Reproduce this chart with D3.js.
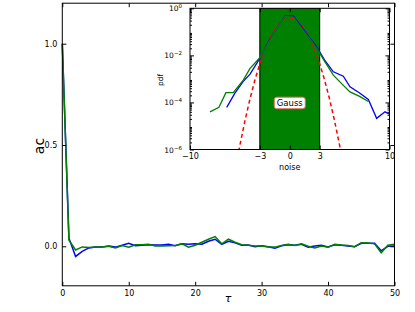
<!DOCTYPE html>
<html><head><meta charset="utf-8">
<script src="https://cdn.jsdelivr.net/npm/d3@7"></script>
<style>body{margin:0;background:#fff} text{font-family:"DejaVu Sans",sans-serif;fill:#000}</style>
</head><body><svg id="c" width="415" height="312"></svg>
<script>
// ---------- data ----------
const tau = [0,1,2,3,4,5,6,7,8,9,10,11,12,13,14,15,16,17,18,19,20,21,22,23,24,25,26,27,28,29,30,31,32,33,34,35,36,37,38,39,40,41,42,43,44,45,46,47,48,49,50];
const acBlue = [1.0,0.04,-0.05,-0.025,-0.008,-0.004,-0.003,0.002,-0.004,0.005,0.015,0.003,0.005,0.008,0.006,0.007,0.010,0.003,0.012,0.010,0.012,0.010,0.025,0.035,0.010,0.025,0.017,0.005,0.006,-0.002,0.003,-0.002,-0.010,0.003,0.008,0.005,0.010,-0.005,0.002,0.005,-0.003,0.008,0.005,0.002,-0.002,0.015,0.015,0.015,-0.022,0.000,0.002];
const acGreen = [1.0,0.03,-0.018,-0.003,-0.006,-0.004,-0.003,0.000,-0.008,0.004,-0.004,0.008,0.008,0.010,0.002,0.002,0.003,0.004,0.012,-0.004,0.005,0.020,0.035,0.048,0.012,0.035,0.020,0.008,0.005,0.002,0.002,-0.003,-0.004,0.004,0.010,0.004,0.012,0.000,-0.008,0.001,-0.005,0.010,0.006,0.004,-0.002,0.018,0.016,0.012,-0.032,0.005,0.010];
const acXTicks = [0,10,20,30,40,50];
const acYTicks = [0.0,0.5,1.0];
const acYLabels = ["0.0","0.5","1.0"];

const noiseBlueX = [-6.32,-5.5,-4.66,-3.98,-3.0,-2.2,-1.3,-0.47,0.36,1.2,2.0,2.7,3.5,4.37,5.37,6.04,7.0,7.88,8.71,9.55,10.0];
const pdfBlue = [6.2e-5,2.5e-4,7.9e-4,1.6e-3,7.4e-3,3.5e-2,0.14,0.47,0.47,0.16,0.056,0.023,6.3e-3,2.0e-3,1.3e-3,4.6e-4,2.5e-4,1.35e-4,2.1e-5,4.0e-5,3.2e-5];
const noiseGreenX = [-8.0,-7.1,-6.4,-5.66,-4.66,-3.98,-3.0,-2.2,-1.3,-0.47,0.36,1.2,2.0,2.7,3.5,4.37,5.2,6.04,7.0,7.88];
const pdfGreen = [4.0e-5,6.2e-5,2.6e-4,2.6e-4,8.9e-4,2.8e-3,7.9e-3,3.2e-2,0.14,0.45,0.42,0.14,0.05,0.02,5.6e-3,1.45e-3,6.3e-4,2.8e-4,1.8e-4,1.1e-4];
const gaussX = [-5.5,-5,-4.5,-4,-3.5,-3,-2.5,-2,-1.5,-1,-0.5,0,0.5,1,1.5,2,2.5,3,3.5,4,4.5,5,5.5];
const gaussPdf = [1.08e-7,1.487e-6,1.598e-5,1.338e-4,8.727e-4,4.432e-3,1.753e-2,5.399e-2,0.1295,0.2420,0.3521,0.3989,0.3521,0.2420,0.1295,5.399e-2,1.753e-2,4.432e-3,8.727e-4,1.338e-4,1.598e-5,1.487e-6,1.08e-7];
const gaussBand = [-3,3];
const inXTicks = [-10,-3,0,3,10];
const inXLabels = ["\u221210","\u22123","0","3","10"];
const inYTicks = [1e-6,1e-4,1e-2,1];
const inYExp = ["\u22126","\u22124","\u22122","0"];

// ---------- layout ----------
const svg = d3.select("#c");
const x = d3.scaleLinear([0,50],[62.3,394.5]);
const y = d3.scaleLinear([-0.195,1.2],[285.8,3.2]);
const xi = d3.scaleLinear([-10,10],[190,389.5]);
const yi = d3.scaleLog([1e-6,1],[149.5,8.3]);

// main lines
const line = d3.line().x((d,i)=>x(tau[i])).y(d=>y(d));
svg.append("path").datum(acBlue).attr("d",line).attr("fill","none").attr("stroke","#0000ff").attr("stroke-width",1.5);
svg.append("path").datum(acGreen).attr("d",line).attr("fill","none").attr("stroke","#008000").attr("stroke-width",1.5);

function ticksOnly(g){ g.select(".domain").remove(); g.selectAll("line").attr("stroke","#000"); }

// main axes ticks
const [X0,X1] = x.range(), [Y0,Y1] = [y.range()[1], y.range()[0]];
svg.append("g").attr("transform",`translate(0,${Y1})`).call(d3.axisBottom(x).tickValues(acXTicks).tickSize(-4).tickPadding(5).tickFormat(d3.format("d"))).call(ticksOnly).selectAll("text").attr("font-size",8);
svg.append("g").attr("transform",`translate(0,${Y0})`).call(d3.axisTop(x).tickValues(acXTicks).tickSize(-4).tickFormat("")).call(ticksOnly);
svg.append("g").attr("transform",`translate(${X0},0)`).call(d3.axisLeft(y).tickValues(acYTicks).tickSize(-4).tickPadding(5).tickFormat((d,i)=>acYLabels[i])).call(ticksOnly).selectAll("text").attr("font-size",8);
svg.append("g").attr("transform",`translate(${X1},0)`).call(d3.axisRight(y).tickValues(acYTicks).tickSize(-4).tickFormat("")).call(ticksOnly);
svg.append("rect").attr("x",X0).attr("y",Y0).attr("width",X1-X0).attr("height",Y1-Y0).attr("fill","none").attr("stroke","#000").attr("stroke-width",1);
svg.append("text").attr("transform",`translate(44,146) rotate(-90)`).attr("text-anchor","middle").attr("font-size",14).text("ac");
svg.append("text").attr("x",228).attr("y",302).attr("text-anchor","middle").attr("font-size",11).attr("font-style","italic").text("\u03c4");

// ---------- inset ----------
const [I0,I1] = xi.range(), IT = yi.range()[1], IB = yi.range()[0];
svg.append("rect").attr("x",I0).attr("y",IT).attr("width",I1-I0).attr("height",IB-IT).attr("fill","#fff");
svg.append("defs").append("clipPath").attr("id","ic").append("rect").attr("x",I0).attr("y",IT).attr("width",I1-I0).attr("height",IB-IT);
const ig = svg.append("g").attr("clip-path","url(#ic)");
ig.append("rect").attr("x",xi(gaussBand[0])).attr("y",IT).attr("width",xi(gaussBand[1])-xi(gaussBand[0])).attr("height",IB-IT)
  .attr("fill","#008000").attr("stroke","#000").attr("stroke-width",1);
const lineG = d3.line().x((d,i)=>xi(gaussX[i])).y(d=>yi(d));
ig.append("path").datum(gaussPdf).attr("d",lineG).attr("fill","none").attr("stroke","#ff0000").attr("stroke-width",1.5).attr("stroke-dasharray","4,3");
const lineB = d3.line().x((d,i)=>xi(noiseBlueX[i])).y(d=>yi(d));
ig.append("path").datum(pdfBlue).attr("d",lineB).attr("fill","none").attr("stroke","#0000ff").attr("stroke-width",1.3);
const lineGr = d3.line().x((d,i)=>xi(noiseGreenX[i])).y(d=>yi(d));
ig.append("path").datum(pdfGreen).attr("d",lineGr).attr("fill","none").attr("stroke","#008000").attr("stroke-width",1.3);

// inset axes
const minor = [];
for (let k=-6;k<0;k++) for (let m=2;m<10;m++) minor.push(m*Math.pow(10,k));
svg.append("g").attr("transform",`translate(0,${IB})`).call(d3.axisBottom(xi).tickValues(inXTicks).tickSize(-4).tickPadding(4).tickFormat((d,i)=>inXLabels[i])).call(ticksOnly).selectAll("text").attr("font-size",8);
svg.append("g").attr("transform",`translate(0,${IT})`).call(d3.axisTop(xi).tickValues(inXTicks).tickSize(-4).tickFormat("")).call(ticksOnly);
[[I0,d3.axisLeft],[I1,d3.axisRight]].forEach(([px,ax])=>{
  svg.append("g").attr("transform",`translate(${px},0)`).call(ax(yi).tickValues(inYTicks).tickSize(-4).tickFormat("")).call(ticksOnly);
  svg.append("g").attr("transform",`translate(${px},0)`).call(ax(yi).tickValues(minor).tickSize(-2).tickFormat("")).call(ticksOnly);
});
svg.append("rect").attr("x",I0).attr("y",IT).attr("width",I1-I0).attr("height",IB-IT).attr("fill","none").attr("stroke","#000").attr("stroke-width",1);
inYTicks.forEach((v,i)=>{
  const t = svg.append("text").attr("x",I0-8).attr("y",yi(v)+3).attr("text-anchor","end").attr("font-size",7.5);
  t.append("tspan").text("10");
  t.append("tspan").attr("dy",-3).attr("font-size",5.5).text(inYExp[i]);
});
svg.append("text").attr("x",xi(0)).attr("y",170).attr("text-anchor","middle").attr("font-size",8).text("noise");
svg.append("text").attr("transform",`translate(163,80) rotate(-90)`).attr("text-anchor","middle").attr("font-size",7.5).text("pdf");

// Gauss label
const gx = xi(0), gy = 103;
svg.append("rect").attr("x",gx-15.5).attr("y",gy-5.8).attr("width",31).attr("height",11.5).attr("rx",2.5)
  .attr("fill","#fff").attr("stroke","#e07060").attr("stroke-width",1);
svg.append("text").attr("x",gx).attr("y",gy+3).attr("text-anchor","middle").attr("font-size",8.5).text("Gauss");
</script></body></html>
